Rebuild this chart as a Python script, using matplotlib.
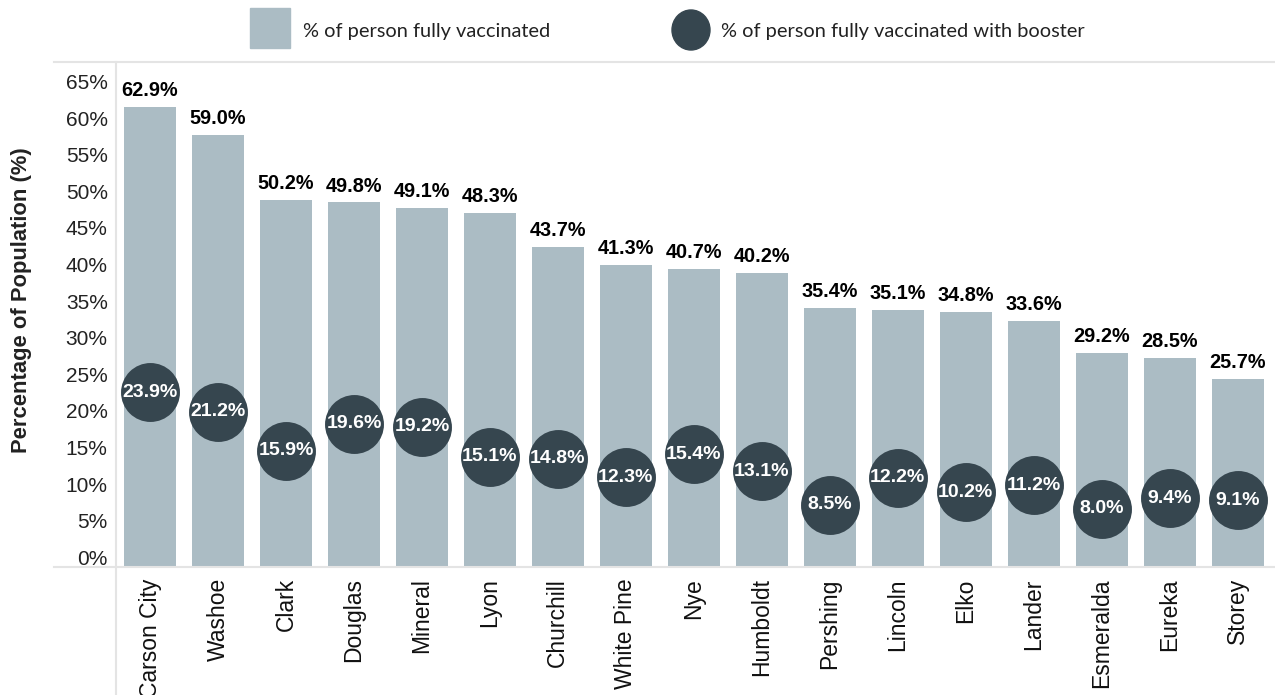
import matplotlib
matplotlib.use("Agg")
import matplotlib.pyplot as plt
import matplotlib.transforms as mtransforms
from matplotlib.patches import Rectangle, Ellipse
from matplotlib.lines import Line2D

counties = ["Carson City", "Washoe", "Clark", "Douglas", "Mineral", "Lyon",
            "Churchill", "White Pine", "Nye", "Humboldt", "Pershing", "Lincoln",
            "Elko", "Lander", "Esmeralda", "Eureka", "Storey"]
fully_vax = [62.9, 59.0, 50.2, 49.8, 49.1, 48.3, 43.7, 41.3, 40.7, 40.2,
             35.4, 35.1, 34.8, 33.6, 29.2, 28.5, 25.7]
booster = [23.9, 21.2, 15.9, 19.6, 19.2, 15.1, 14.8, 12.3, 15.4, 13.1,
           8.5, 12.2, 10.2, 11.2, 8.0, 9.4, 9.1]
y_ticks = list(range(0, 70, 5))

bar_col = "#abbcc4"
dot_col = "#36464f"
line_col = "#e4e4e4"
arial = ["Liberation Sans", "DejaVu Sans"]
lato = ["Lato", "DejaVu Sans"]

fig = plt.figure(figsize=(12.75, 6.95), dpi=100)
ax = fig.add_axes([0.091, 0.184, 0.909, 0.727])

x = range(len(counties))
ax.bar(x, fully_vax, width=0.765, color=bar_col, zorder=1)
ax.scatter(x, booster, s=1800, color=dot_col, zorder=3, linewidths=0)

for i, v in enumerate(fully_vax):
    ax.annotate(f"{v:.1f}%", (i, v), xytext=(0, 5), textcoords="offset points",
                ha="center", va="bottom", fontsize=14.3, fontweight="bold",
                family=arial, color="black")
for i, v in enumerate(booster):
    ax.text(i, v, f"{v:.1f}%", ha="center", va="center", fontsize=14,
            fontweight="bold", family=arial, color="white", zorder=4)

ax.set_xlim(-0.5, 16.55)
ax.set_ylim(0, 69)
ax.set_yticks(y_ticks)
ax.set_yticklabels([f"{t}%" for t in y_ticks], family=arial, fontsize=15,
                   color="#222222")
ax.set_xticks(list(x))
ax.set_xticklabels(counties, rotation=90, family=arial, fontsize=16.5,
                   color="#111111", va="top")
ax.tick_params(axis="both", length=0)
ax.tick_params(axis="x", pad=8)
ax.tick_params(axis="y", pad=6)
for s in ax.spines.values():
    s.set_visible(False)

# lift the y tick labels a little so 0% clears the baseline
lift = mtransforms.ScaledTranslation(0, 7 / 72, fig.dpi_scale_trans)
for lbl in ax.get_yticklabels():
    lbl.set_transform(lbl.get_transform() + lift)

fig.text(0.017, 0.184 + 0.727 / 2 + 0.02, "Percentage of Population (%)",
         rotation=90, ha="center", va="center", fontsize=15.8,
         fontweight="bold", family=arial, color="#222222")

# frame lines around the plot area
fig.add_artist(Line2D([0.042, 1.0], [0.911, 0.911], color=line_col, lw=1.5))
fig.add_artist(Line2D([0.042, 1.0], [0.184, 0.184], color=line_col, lw=1.5))
fig.add_artist(Line2D([0.091, 0.091], [0.0, 0.911], color=line_col, lw=1.5))

# legend
fig.add_artist(Rectangle((250 / 1275, 1 - 48 / 695), 40 / 1275, 40 / 695,
                         transform=fig.transFigure, color=bar_col))
fig.text(303 / 1275, 1 - 31 / 695, "% of person fully vaccinated",
         ha="left", va="center", fontsize=14.4, family=lato, color="#222222")
fig.add_artist(Ellipse((691 / 1275, 1 - 30 / 695), 38 / 1275, 40 / 695,
                       transform=fig.transFigure, color=dot_col))
fig.text(721 / 1275, 1 - 31 / 695, "% of person fully vaccinated with booster",
         ha="left", va="center", fontsize=14.4, family=lato, color="#222222")

fig.savefig("out.png", dpi=100, facecolor="white")
